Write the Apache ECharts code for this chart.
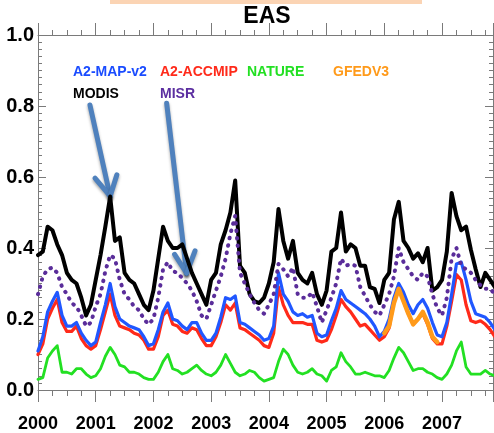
<!DOCTYPE html>
<html><head><meta charset="utf-8">
<script src="https://cdn.jsdelivr.net/npm/echarts@6/dist/echarts.min.js"></script>
<style>html,body{margin:0;padding:0;background:#fff}#c{width:494px;height:433px}</style>
</head><body><div id="c"></div>
<script>
// x = months since Jan 2000
const yearLabels = ['2000','2001','2002','2003','2004','2005','2006','2007'];
const yTickLabels = ['0.0','0.2','0.4','0.6','0.8','1.0'];

const modis = [0.38,0.39,0.46,0.45,0.41,0.38,0.33,0.31,0.30,0.26,0.21,0.24,
0.31,0.38,0.46,0.545,0.42,0.43,0.33,0.31,0.30,0.27,0.24,0.225,
0.28,0.37,0.46,0.42,0.40,0.40,0.41,0.37,0.33,0.30,0.27,0.24,
0.31,0.33,0.41,0.45,0.50,0.59,0.35,0.33,0.27,0.25,0.245,0.26,
0.30,0.36,0.51,0.42,0.37,0.42,0.33,0.31,0.30,0.33,0.27,0.24,
0.28,0.39,0.40,0.50,0.39,0.41,0.40,0.35,0.35,0.29,0.285,0.245,
0.31,0.33,0.48,0.53,0.42,0.40,0.37,0.385,0.36,0.40,0.28,0.29,
0.31,0.39,0.555,0.49,0.45,0.46,0.395,0.34,0.29,0.33,0.31,0.29];

const a2mapv2 = [0.11,0.15,0.22,0.25,0.275,0.21,0.18,0.18,0.19,0.16,0.14,0.125,
0.135,0.19,0.24,0.30,0.235,0.20,0.19,0.18,0.175,0.17,0.15,0.125,
0.13,0.17,0.22,0.245,0.20,0.195,0.18,0.17,0.19,0.19,0.16,0.14,
0.14,0.16,0.205,0.26,0.255,0.265,0.19,0.185,0.175,0.165,0.155,0.14,
0.145,0.18,0.33,0.27,0.25,0.22,0.21,0.215,0.205,0.21,0.16,0.15,
0.155,0.195,0.23,0.28,0.255,0.245,0.235,0.225,0.215,0.20,0.18,0.15,
0.165,0.20,0.26,0.30,0.275,0.24,0.215,0.24,0.255,0.23,0.19,0.155,
0.15,0.19,0.27,0.355,0.36,0.31,0.25,0.215,0.21,0.205,0.19,0.17];

const a2accmip = [0.10,0.13,0.20,0.23,0.255,0.19,0.165,0.165,0.18,0.145,0.125,0.115,
0.125,0.17,0.22,0.27,0.21,0.18,0.175,0.17,0.16,0.155,0.14,0.115,
0.115,0.15,0.21,0.225,0.185,0.18,0.165,0.16,0.175,0.17,0.145,0.125,
0.125,0.15,0.19,0.24,0.225,0.245,0.175,0.17,0.16,0.15,0.14,0.125,
0.12,0.16,0.29,0.24,0.21,0.19,0.19,0.19,0.185,0.185,0.14,0.135,
0.14,0.17,0.21,0.255,0.235,0.22,0.20,0.18,0.185,0.17,0.155,0.14,
0.15,0.175,0.25,0.29,0.25,0.215,0.185,0.20,0.215,0.185,0.145,0.13,
0.13,0.18,0.25,0.325,0.31,0.24,0.195,0.19,0.195,0.185,0.17,0.15];

const nature = [0.03,0.035,0.09,0.11,0.125,0.05,0.05,0.045,0.06,0.06,0.045,0.035,
0.04,0.06,0.095,0.12,0.10,0.07,0.065,0.05,0.05,0.045,0.035,0.03,
0.03,0.05,0.08,0.10,0.06,0.055,0.045,0.05,0.06,0.07,0.055,0.045,
0.04,0.05,0.07,0.10,0.075,0.05,0.04,0.045,0.055,0.05,0.035,0.025,
0.03,0.035,0.08,0.115,0.10,0.07,0.05,0.045,0.05,0.06,0.045,0.04,
0.025,0.055,0.065,0.105,0.08,0.065,0.045,0.045,0.05,0.045,0.04,0.04,
0.035,0.055,0.09,0.12,0.105,0.08,0.055,0.06,0.06,0.05,0.045,0.035,
0.03,0.045,0.07,0.11,0.135,0.065,0.045,0.045,0.045,0.055,0.045,0.04];

const misr = [0.27,0.32,0.34,0.345,0.33,0.29,0.27,0.245,0.235,0.21,0.18,0.19,
0.235,0.27,0.335,0.38,0.37,0.31,0.27,0.255,0.235,0.225,0.20,0.185,
0.20,0.26,0.34,0.36,0.335,0.33,0.315,0.30,0.28,0.25,0.21,0.20,
0.24,0.28,0.32,0.37,0.44,0.49,0.33,0.30,0.27,0.245,0.225,0.215,
0.24,0.27,0.355,0.34,0.32,0.345,0.27,0.26,0.26,0.275,0.235,0.19,
0.225,0.26,0.30,0.37,0.35,0.355,0.35,0.29,0.265,0.24,0.22,0.21,
0.24,0.27,0.32,0.40,0.36,0.34,0.32,0.31,0.33,0.32,0.27,0.23,
0.21,0.26,0.37,0.40,0.35,0.34,0.33,0.31,0.295,0.285,0.285,0.27];

const gfedv3Start = 72; // Jan 2006
const gfedv3 = [0.16,0.18,0.245,0.285,0.25,0.215,0.185,0.20,0.22,0.19,0.15,0.135];

// annotation arrows in data coordinates [month, value]
const arrow1 = {tail:[10.8,0.803], tip:[15.0,0.546], wingL:[11.85,0.597], wingR:[16.4,0.606]};
const arrow2 = {tail:[26.75,0.808], tip:[30.9,0.329], wingL:[28.4,0.382], wingR:[32.65,0.392]};

const FONT = "'Liberation Sans', Arial, Helvetica, sans-serif";
const AXIS_COLOR = '#7a7a7a';
const XMAX = 94.6;

function toPairs(arr, start) { return arr.map((v, i) => [start + i, v]); }

function arrowLines(a) {
  return [
    [{coord:a.tail},{coord:a.tip}],
    [{coord:a.wingL},{coord:a.tip}],
    [{coord:a.wingR},{coord:a.tip}]
  ];
}

const chart = echarts.init(document.getElementById('c'), null, {renderer:'canvas'});

function lineSeries(name, arr, start, color, width, z, extra) {
  return Object.assign({
    name, type:'line', data: toPairs(arr, start), showSymbol:false, symbol:'none',
    z, animation:false, clip:true,
    lineStyle:{color, width, join:'round', cap:'round'},
    emphasis:{disabled:true}
  }, extra || {});
}

const axisLine = {show:true, onZero:false, lineStyle:{color:AXIS_COLOR, width:1}};

const option = {
  animation:false,
  grid:{left:38, right:1, top:35, bottom:43, outerBoundsMode:'none', containLabel:false},
  xAxis:[{
    type:'value', position:'bottom', min:0, max:XMAX, interval:12,
    axisLine:axisLine,
    axisTick:{show:true, inside:false, length:12, lineStyle:{color:AXIS_COLOR}},
    minorTick:{show:true, splitNumber:4, length:6, lineStyle:{color:AXIS_COLOR}},
    splitLine:{show:false},
    axisLabel:{show:true, margin:25, color:'#000', fontWeight:'bold', fontSize:18, fontFamily:FONT,
      formatter:v => (v % 12 === 0 && yearLabels[v/12]) ? yearLabels[v/12] : ''},
  },{
    type:'value', position:'top', min:0, max:XMAX, interval:12,
    axisLine:axisLine,
    axisTick:{show:true, inside:false, length:12, lineStyle:{color:AXIS_COLOR}},
    minorTick:{show:true, splitNumber:4, length:5, lineStyle:{color:AXIS_COLOR}},
    splitLine:{show:false}, axisLabel:{show:false}
  }],
  yAxis:[{
    type:'value', position:'left', min:0, max:1, interval:0.2,
    axisLine:axisLine,
    axisTick:{show:true, inside:true, length:8, lineStyle:{color:AXIS_COLOR}},
    minorTick:{show:true, splitNumber:10, length:4, lineStyle:{color:AXIS_COLOR}},
    splitLine:{show:false},
    axisLabel:{show:true, margin:4, color:'#000', fontWeight:'bold', fontSize:20, fontFamily:FONT,
      formatter:v => yTickLabels[Math.round(v/0.2)] || ''}
  },{
    type:'value', position:'right', min:0, max:1, interval:0.2,
    axisLine:axisLine,
    axisTick:{show:true, inside:true, length:8, lineStyle:{color:AXIS_COLOR}},
    minorTick:{show:true, splitNumber:10, length:4, lineStyle:{color:AXIS_COLOR}},
    splitLine:{show:false}, axisLabel:{show:false}
  }],
  series:[
    lineSeries('A2-ACCMIP', a2accmip, 0, '#ff2a1a', 3.2, 2),
    lineSeries('A2-MAP-v2', a2mapv2, 0, '#2057ff', 3.2, 3),
    lineSeries('NATURE', nature, 0, '#22e022', 2.8, 3),
    lineSeries('GFEDV3', gfedv3, gfedv3Start, '#ff9a1a', 4.5, 4),
    lineSeries('MODIS', modis, 0, '#000000', 4, 5),
    Object.assign(lineSeries('MISR', misr, 0, '#5a2d9a', 4, 6),
      {lineStyle:{color:'#5a2d9a', width:4, type:[0.5, 7], cap:'round', join:'round'}}),
    {
      name:'arrows', type:'line', data:[], z:8, animation:false,
      markLine:{
        silent:true, animation:false, symbol:['none','none'],
        label:{show:false},
        lineStyle:{color:'#4f81bd', width:5, type:'solid', cap:'round',
          shadowBlur:3, shadowColor:'rgba(0,0,0,0.35)', shadowOffsetY:2},
        emphasis:{disabled:true},
        data:[...arrowLines(arrow1), ...arrowLines(arrow2)]
      }
    }
  ],
  graphic:[
    {type:'rect', shape:{x:110, y:0, width:312, height:4}, style:{fill:'#fbd4b4'}, silent:true},
    {type:'text', x:267, y:17, style:{text:'EAS', font:'bold 23px '+FONT, fill:'#000', align:'center', verticalAlign:'middle'}},
    {type:'text', x:73, y:72, style:{text:'A2-MAP-v2', font:'bold 14px '+FONT, fill:'#1a4cff', verticalAlign:'middle'}},
    {type:'text', x:160, y:72, style:{text:'A2-ACCMIP', font:'bold 14px '+FONT, fill:'#ff2a1a', verticalAlign:'middle'}},
    {type:'text', x:247, y:72, style:{text:'NATURE', font:'bold 14px '+FONT, fill:'#22e022', verticalAlign:'middle'}},
    {type:'text', x:333, y:72, style:{text:'GFEDV3', font:'bold 14px '+FONT, fill:'#ff9a1a', verticalAlign:'middle'}},
    {type:'text', x:73, y:94, style:{text:'MODIS', font:'bold 14px '+FONT, fill:'#000', verticalAlign:'middle'}},
    {type:'text', x:160, y:94, style:{text:'MISR', font:'bold 14px '+FONT, fill:'#5b2ea0', verticalAlign:'middle'}}
  ]
};
chart.setOption(option);
</script>
</body></html>
